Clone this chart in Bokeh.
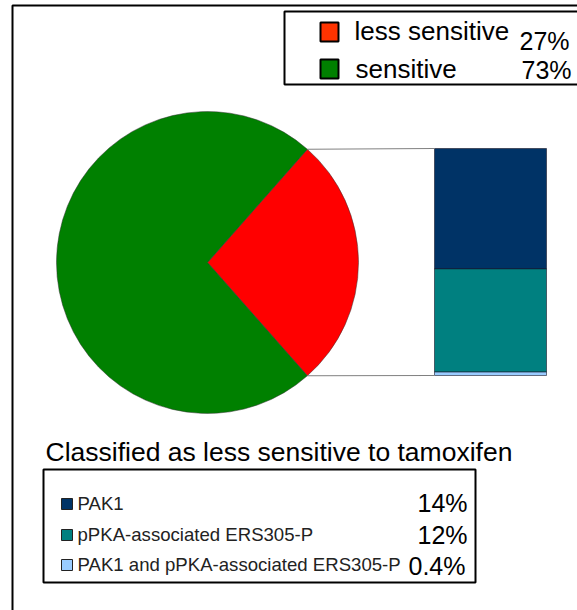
import math
from bokeh.plotting import figure
from bokeh.models import Range1d
from bokeh.core.properties import value
from bokeh.embed import file_html
from bokeh.resources import INLINE

# ---- data ----
main_labels = ["less sensitive", "sensitive"]
main_values = [27, 73]
main_pct = ["27%", "73%"]
pie_colors = ["#FF0000", "#008000"]
swatch_colors = ["#FF3300", "#008000"]

sub_labels = ["PAK1", "pPKA-associated ERS305-P", "PAK1 and pPKA-associated ERS305-P"]
sub_values = [14, 12, 0.4]
sub_pct = ["14%", "12%", "0.4%"]
sub_colors = ["#003366", "#008080", "#99CCFF"]
sub_title = "Classified as less sensitive to tamoxifen"

# ---- layout (pixel space, y measured from top) ----
W, H = 577, 610
FONT = value("Liberation Sans")
K = 0.32  # baseline correction factor


def Y(py):
    return H - py


def TY(py, size):
    return H - py + K * size


p = figure(width=W, height=H, x_range=Range1d(0, W), y_range=Range1d(0, H),
           output_backend="svg", toolbar_location=None,
           x_axis_location=None, y_axis_location=None, min_border=0)
p.grid.visible = False
p.outline_line_color = None
p.background_fill_color = "white"
p.border_fill_color = "white"

# outer frame
p.line(x=[12, 12, W + 10], y=[Y(H + 10), Y(5), Y(5)], line_color="black", line_width=2)

# pie
cx, cy, r = 207, Y(262), 151
total = sum(main_values)
half = main_values[0] / total * 360 / 2
p.wedge(x=cx, y=cy, radius=r, start_angle=-half, end_angle=half, start_angle_units="deg",
        end_angle_units="deg", fill_color=pie_colors[0], line_color="#333333", line_width=0.5)
p.wedge(x=cx, y=cy, radius=r, start_angle=half, end_angle=360 - half, start_angle_units="deg",
        end_angle_units="deg", fill_color=pie_colors[1], line_color="#333333", line_width=0.5)

# bar of pie
bl, br, btop, bbot = 434, 546, Y(148), Y(375)
scale = (btop - bbot) / sum(sub_values)
tops, bots = [], []
cur = btop
for v in sub_values:
    tops.append(cur)
    cur -= v * scale
    bots.append(cur)
p.quad(left=[bl] * 3, right=[br] * 3, top=tops, bottom=bots, fill_color=sub_colors,
       line_color="#1a1a2a", line_width=0.6)

# connector lines
ex = cx + r * math.cos(math.radians(half))
ey_up = cy + r * math.sin(math.radians(half))
ey_dn = cy - r * math.sin(math.radians(half))
p.segment(x0=[ex, ex], y0=[ey_up, ey_dn], x1=[bl, bl], y1=[btop, bbot],
          line_color="#808080", line_width=1.2)

# top legend
p.quad(left=[284], right=[W + 10], top=[Y(11)], bottom=[Y(84)], fill_color="white",
       line_color="black", line_width=2)
p.quad(left=[320, 320], right=[338, 338], top=[Y(22), Y(59)], bottom=[Y(41), Y(78)],
       fill_color=swatch_colors, line_color="black", line_width=2)
p.text(x=[354, 355], y=[TY(39, 26), TY(77, 26)], text=main_labels, text_font=FONT,
       text_font_size="26px", text_baseline="alphabetic", text_color="black")
p.text(x=[519, 521], y=[TY(48, 25), TY(77, 25)], text=main_pct, text_font=FONT,
       text_font_size="25px", text_baseline="alphabetic", text_color="black")

# bottom legend
p.text(x=[45], y=[TY(460, 26.5)], text=[sub_title], text_font=FONT, text_font_size="26.5px",
       text_baseline="alphabetic", text_color="black")
p.quad(left=[43], right=[475], top=[Y(469)], bottom=[Y(582)], fill_color="white",
       line_color="black", line_width=2)
row_base = [509, 540, 570]
p.quad(left=[61] * 3, right=[72] * 3, top=[Y(b) + 11 for b in row_base],
       bottom=[Y(b) for b in row_base],
       fill_color=sub_colors, line_color="#222222", line_width=1)
p.text(x=[77] * 3, y=[TY(b, 18.6) for b in row_base], text=sub_labels, text_font=FONT,
       text_font_size="18.6px", text_baseline="alphabetic", text_color="#222222")
p.text(x=[417, 417, 408], y=[TY(510, 25), TY(542, 25), TY(573, 25)], text=sub_pct,
       text_font=FONT, text_font_size="25px", text_baseline="alphabetic", text_color="black")

open("out.html", "w").write(file_html(p, INLINE))
